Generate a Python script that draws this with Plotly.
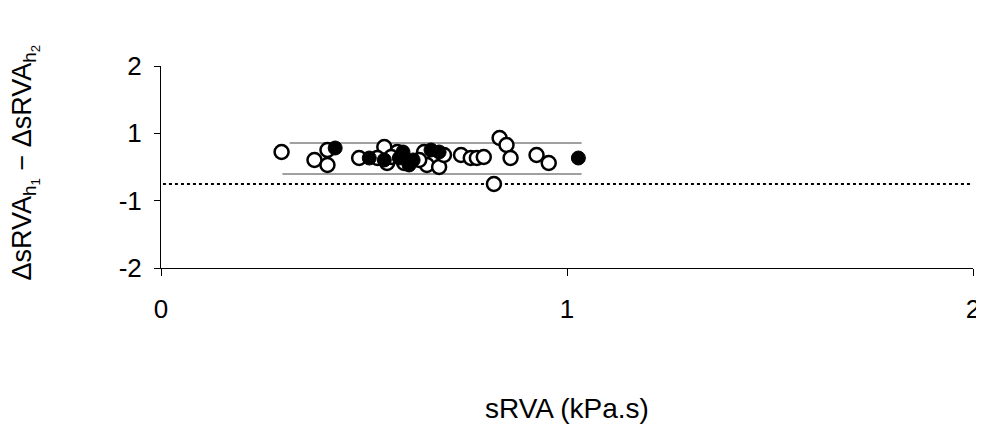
import plotly.graph_objects as go

# Open-circle points
open_x = [0.297, 0.378, 0.410, 0.410, 0.488, 0.550, 0.557, 0.533, 0.582, 0.599,
          0.648, 0.655, 0.685, 0.739, 0.763, 0.778, 0.795, 0.834, 0.851, 0.820,
          0.861, 0.925, 0.955, 0.636, 0.697, 0.567]
open_y = [0.297, 0.139, 0.337, 0.040, 0.178, 0.396, 0.079, 0.178, 0.297, 0.079,
          0.297, 0.040, 0.000, 0.238, 0.178, 0.178, 0.198, 0.574, 0.436, -0.337,
          0.178, 0.238, 0.079, 0.139, 0.238, 0.198]

# Filled points
filled_x = [0.429, 0.513, 0.587, 0.611, 0.621, 0.665, 0.685, 0.596, 1.028, 0.550]
filled_y = [0.376, 0.178, 0.178, 0.040, 0.139, 0.337, 0.297, 0.297, 0.178, 0.139]

# Reference lines
upper_line_x = [0.317, 1.036]
upper_line_y = [0.475, 0.475]
lower_line_x = [0.299, 1.036]
lower_line_y = [-0.139, -0.139]
dotted_y = -0.337

# Axes ticks
x_ticks = [0, 1, 2]
x_ticktext = ["0", "1", "2"]
y_ticks = [2, 2 / 3, -2 / 3, -2]
y_ticktext = ["2", "1", "-1", "-2"]

fig = go.Figure()

fig.add_trace(go.Scatter(x=upper_line_x, y=upper_line_y, mode="lines",
                         line=dict(color="#808080", width=1.5), showlegend=False,
                         hoverinfo="skip"))
fig.add_trace(go.Scatter(x=lower_line_x, y=lower_line_y, mode="lines",
                         line=dict(color="#808080", width=1.5), showlegend=False,
                         hoverinfo="skip"))
fig.add_trace(go.Scatter(x=[-0.01, 2], y=[dotted_y, dotted_y], mode="lines",
                         line=dict(color="black", width=2, dash="dot"),
                         showlegend=False, hoverinfo="skip", cliponaxis=False))

fig.add_trace(go.Scatter(x=open_x, y=open_y, mode="markers",
                         marker=dict(symbol="circle", size=14, color="white",
                                     line=dict(color="black", width=2.5)),
                         showlegend=False))
fig.add_trace(go.Scatter(x=filled_x, y=filled_y, mode="markers",
                         marker=dict(symbol="circle", size=14, color="black",
                                     line=dict(color="black", width=1)),
                         showlegend=False))

font_family = "Liberation Sans, Arial, sans-serif"

# The page body has an 8px margin, so the figure is offset by 8px.
W, H = 984, 426
L, R, T, B = 153, 16, 58, 166

fig.update_layout(
    width=W, height=H,
    margin=dict(l=L, r=R, t=T, b=B),
    paper_bgcolor="white", plot_bgcolor="white",
    font=dict(family=font_family, color="black", size=26),
    xaxis=dict(range=[0, 2], tickvals=x_ticks, ticktext=x_ticktext,
               showgrid=False, zeroline=False, showline=True,
               linecolor="black", linewidth=1, ticks="outside", ticklen=7,
               tickcolor="black", tickwidth=1, ticklabelstandoff=11,
               tickfont=dict(size=26)),
    yaxis=dict(range=[-2, 2], tickvals=y_ticks, ticktext=y_ticktext,
               showgrid=False, zeroline=False, showline=True,
               linecolor="black", linewidth=1, ticks="outside", ticklen=6,
               tickcolor="black", tickwidth=1, ticklabelstandoff=7,
               tickfont=dict(size=26)),
)

plot_w = W - L - R
plot_h = H - T - B
# target positions in page pixels (figure offset by 8px)
xt_center_y = 408 - 8
yt_center_x = 24 - 8
yt_center_y = 163 - 8
axis_bottom = 268 - 8
axis_left = 161 - 8

fig.add_annotation(text="sRVA (kPa.s)", x=0.5, xref="paper",
                   y=-(xt_center_y - axis_bottom) / plot_h, yref="paper",
                   yanchor="middle", showarrow=False, font=dict(size=28))
fig.add_annotation(text="ΔsRVA<sub>h<sub>1</sub></sub> − ΔsRVA<sub>h<sub>2</sub></sub>",
                   textangle=-90,
                   x=-(axis_left - yt_center_x) / plot_w, xref="paper",
                   xanchor="center",
                   y=(axis_bottom - yt_center_y) / plot_h, yref="paper",
                   yanchor="middle", showarrow=False, font=dict(size=27))

fig.write_html("out.html")
